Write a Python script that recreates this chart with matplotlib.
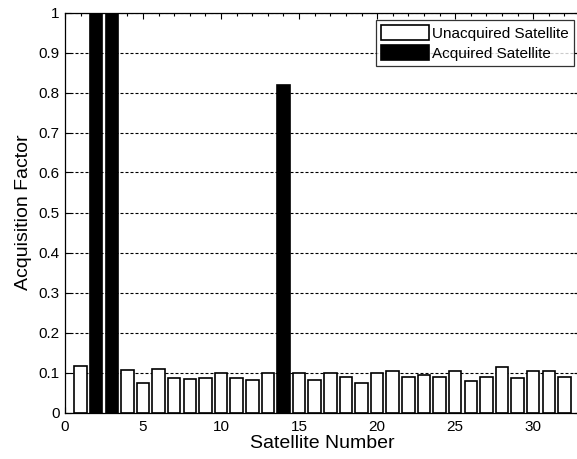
import matplotlib
matplotlib.use("Agg")
import matplotlib.pyplot as plt
from matplotlib.ticker import MultipleLocator
import numpy as np

plt.rcParams['font.family'] = ['Liberation Sans', 'DejaVu Sans']

satellites = list(range(1, 33))
acq_factor = [0.116, 1.0, 1.0, 0.106, 0.074, 0.109, 0.087, 0.083, 0.087, 0.099,
              0.087, 0.081, 0.099, 0.82, 0.099, 0.081, 0.100, 0.089, 0.075, 0.099,
              0.104, 0.089, 0.095, 0.089, 0.104, 0.078, 0.089, 0.113, 0.087, 0.104,
              0.104, 0.089]
acquired = [2, 3, 14]

fig = plt.figure(figsize=(5.77, 4.59), dpi=100)
ax = fig.add_axes([65 / 577, 1 - 412.5 / 459, 515 / 577, 400 / 459])

sat = np.array(satellites)
vals = np.array(acq_factor)
mask = np.isin(sat, acquired)

ax.bar(sat[~mask], vals[~mask], width=0.8, color='white', edgecolor='black',
       linewidth=1.2, label='Unacquired Satellite', zorder=2)
ax.bar(sat[mask], vals[mask], width=0.8, color='black', edgecolor='black',
       linewidth=1.2, label='Acquired Satellite', zorder=2)

ax.set_xlim(0, 33)
ax.set_ylim(0, 1)
ax.set_xticks([0, 5, 10, 15, 20, 25, 30])
ax.set_yticks(np.arange(0, 1.01, 0.1))
ax.set_yticklabels(['0', '0.1', '0.2', '0.3', '0.4', '0.5', '0.6', '0.7', '0.8', '0.9', '1'])
ax.xaxis.set_minor_locator(MultipleLocator(1))

ax.set_axisbelow(True)
ax.yaxis.grid(True, color='black', linestyle=(0, (2.7, 1.8)), linewidth=0.8)

ax.tick_params(which='both', direction='in', top=True, right=True, labelsize=11,
               colors='black', width=0.8)
ax.tick_params(which='major', length=4)
ax.tick_params(which='minor', length=2.5)
ax.tick_params(axis='x', pad=5.5)
ax.tick_params(axis='y', pad=4)
for s in ax.spines.values():
    s.set_linewidth(0.9)

ax.set_xlabel('Satellite Number', fontsize=14, labelpad=0.5)
ax.set_ylabel('Acquisition Factor', fontsize=14, labelpad=4.5)

leg = ax.legend(loc='upper right', bbox_to_anchor=(574 / 577, 1 - 20 / 459),
                bbox_transform=fig.transFigure,
                fontsize=11, frameon=True, fancybox=False, edgecolor='black',
                handlelength=3.1, handleheight=1.1, borderpad=0.35, labelspacing=0.3,
                handletextpad=0.2, borderaxespad=0.0)
leg.get_frame().set_linewidth(0.9)

fig.savefig('out.png', dpi=100)
